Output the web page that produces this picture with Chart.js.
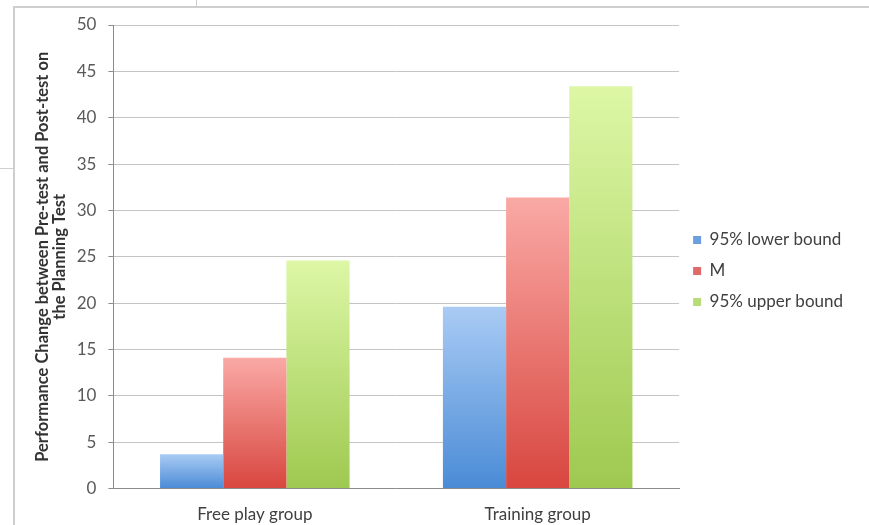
<!DOCTYPE html>
<html>
<head>
<meta charset="utf-8">
<script src="https://cdn.jsdelivr.net/npm/chart.js@4/dist/chart.umd.min.js"></script>
<style>
  body { margin: 0; background: #fff; }
  #wrap { position: relative; width: 869px; height: 525px; overflow: hidden; }
  #chart { position: absolute; left: 0; top: 0; }
  .edge { position: absolute; background: #cfcfcf; }
</style>
</head>
<body>
<div id="wrap">
  <canvas id="chart" width="869" height="525"></canvas>
  <div class="edge" style="left:13px; top:6px; width:856px; height:2px;"></div>
  <div class="edge" style="left:13px; top:6px; width:2px; height:519px;"></div>
  <div class="edge" style="left:196px; top:0; width:1px; height:7px;"></div>
  <div class="edge" style="left:0; top:168px; width:13px; height:1px;"></div>
</div>
<script>
// groups and series
const groups = ['Free play group', 'Training group'];
const lowerBound = [3.7, 19.6];
const meanValues = [14.1, 31.4];
const upperBound = [24.6, 43.4];
const yTicks = [0, 5, 10, 15, 20, 25, 30, 35, 40, 45, 50];

// top / bottom colour of each series' bar gradient
function barFill(topCol, bottomCol) {
    return function(ctx) {
        const chart = ctx.chart;
        if (!chart.chartArea || !chart.scales.y) return bottomCol;
        const y = chart.scales.y;
        const top = y.getPixelForValue(ctx.raw);
        const bottom = y.getPixelForValue(0);
        if (!isFinite(top) || !isFinite(bottom) || top === bottom) return bottomCol;
        const g = chart.ctx.createLinearGradient(0, top, 0, bottom);
        g.addColorStop(0, topCol);
        g.addColorStop(1, bottomCol);
        return g;
    };
}

// the legend sits a little above the middle in the original
const liftLegend = {
    id: 'liftLegend',
    afterLayout(chart) {
        if (chart.legend) {
            chart.legend.top -= 8;
            chart.legend.bottom -= 8;
        }
    }
};

new Chart(document.getElementById('chart'), {
    type: 'bar',
    data: {
        labels: groups,
        datasets: [{
            label: '95% lower bound',
            data: lowerBound,
            backgroundColor: barFill('#a9cbf4', '#4a8bd6'),
        }, {
            label: 'M',
            data: meanValues,
            backgroundColor: barFill('#faa9a5', '#d8463f'),
        }, {
            label: '95% upper bound',
            data: upperBound,
            backgroundColor: barFill('#ddf7a6', '#9ec950'),
        }]
    },
    plugins: [liftLegend],
    options: {
        responsive: false,
        animation: false,
        categoryPercentage: 0.67,
        barPercentage: 1,
        layout: { padding: { left: 34, top: 25, right: 16, bottom: -8 } },
        plugins: {
            tooltip: { enabled: false },
            legend: {
                position: 'right',
                labels: {
                    boxWidth: 8,
                    boxHeight: 8,
                    padding: 14,
                    color: '#404040',
                    font: { family: 'Lato', size: 17 },
                    generateLabels(chart) {
                        const solid = ['#6a9fe0', '#e0696a', '#b9dc78'];
                        return chart.data.datasets.map((ds, i) => ({
                            text: ds.label,
                            fillStyle: solid[i],
                            strokeStyle: solid[i],
                            lineWidth: 0,
                            datasetIndex: i,
                            fontColor: '#404040',
                        }));
                    }
                }
            }
        },
        scales: {
            x: {
                grid: { display: false },
                border: { color: '#8c8c8c' },
                ticks: { color: '#404040', font: { family: 'Lato', size: 17 }, padding: 8 }
            },
            y: {
                min: 0,
                max: 50,
                afterBuildTicks(axis) { axis.ticks = yTicks.map(v => ({ value: v })); },
                grid: { color: '#c4c4c4', tickLength: 5, tickColor: '#8c8c8c' },
                border: { color: '#8c8c8c' },
                ticks: { color: '#595959', font: { family: 'Lato', size: 17 }, padding: 12 },
                title: {
                    display: true,
                    text: ['Performance Change between Pre-test and Post-test on', 'the Planning Test'],
                    color: '#333333',
                    font: { family: 'Lato', size: 16.5, weight: 'bold', lineHeight: 1.05 },
                    padding: { top: 0, bottom: -4 }
                }
            }
        }
    }
});
</script>
</body>
</html>
